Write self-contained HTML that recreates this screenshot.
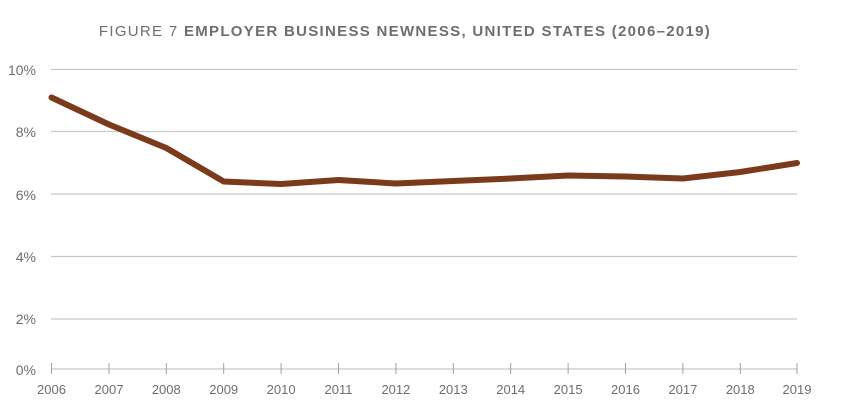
<!DOCTYPE html>
<html><head><style>
html,body{margin:0;padding:0;background:#fff;width:845px;height:419px;overflow:hidden}
</style></head><body>
<svg width="845" height="419" xmlns="http://www.w3.org/2000/svg" font-family="Liberation Sans, sans-serif">
<text x="405" y="36" text-anchor="middle" font-size="15" fill="#6d6e71" letter-spacing="1.3"><tspan>FIGURE 7  </tspan><tspan font-weight="bold">EMPLOYER BUSINESS NEWNESS, UNITED STATES (2006–2019)</tspan></text>
<g stroke="#c8c8c8" stroke-width="1.2">
<line x1="51" x2="797" y1="69.5" y2="69.5"/>
<line x1="51" x2="797" y1="131.5" y2="131.5"/>
<line x1="51" x2="797" y1="194" y2="194"/>
<line x1="51" x2="797" y1="256.5" y2="256.5"/>
<line x1="51" x2="797" y1="319" y2="319"/>
<line x1="51" x2="797" y1="369" y2="369"/>
</g>
<g stroke="#a0a0a0" stroke-width="1">
<line x1="51.5" x2="51.5" y1="363" y2="374"/><line x1="109" x2="109" y1="363" y2="374"/><line x1="166.3" x2="166.3" y1="363" y2="374"/><line x1="223.7" x2="223.7" y1="363" y2="374"/><line x1="281.1" x2="281.1" y1="363" y2="374"/><line x1="338.5" x2="338.5" y1="363" y2="374"/><line x1="395.9" x2="395.9" y1="363" y2="374"/><line x1="453.3" x2="453.3" y1="363" y2="374"/><line x1="510.7" x2="510.7" y1="363" y2="374"/><line x1="568.1" x2="568.1" y1="363" y2="374"/><line x1="625.5" x2="625.5" y1="363" y2="374"/><line x1="682.9" x2="682.9" y1="363" y2="374"/><line x1="740.3" x2="740.3" y1="363" y2="374"/><line x1="797" x2="797" y1="363" y2="374"/>
</g>
<g font-size="14" fill="#6d6e71" text-anchor="end">
<text x="36" y="75">10%</text><text x="36" y="137">8%</text><text x="36" y="200">6%</text><text x="36" y="262">4%</text><text x="36" y="324">2%</text><text x="36" y="375">0%</text>
</g>
<g font-size="13" fill="#6d6e71" text-anchor="middle">
<text x="51.5" y="394">2006</text><text x="109" y="394">2007</text><text x="166.3" y="394">2008</text><text x="223.7" y="394">2009</text><text x="281.1" y="394">2010</text><text x="338.5" y="394">2011</text><text x="395.9" y="394">2012</text><text x="453.3" y="394">2013</text><text x="510.7" y="394">2014</text><text x="568.1" y="394">2015</text><text x="625.5" y="394">2016</text><text x="682.9" y="394">2017</text><text x="740.3" y="394">2018</text><text x="797" y="394">2019</text>
</g>
<polyline fill="none" stroke="#7b3a1b" stroke-width="6" stroke-linecap="round" stroke-linejoin="round"
points="51.5,97.5 109,124.5 166.3,148 223.7,181.5 281.1,184 338.5,180 395.9,183.5 453.3,181 510.7,178.5 568.1,175.5 625.5,176.5 682.9,178.5 740.3,172 797,163"/>
</svg>
</body></html>
